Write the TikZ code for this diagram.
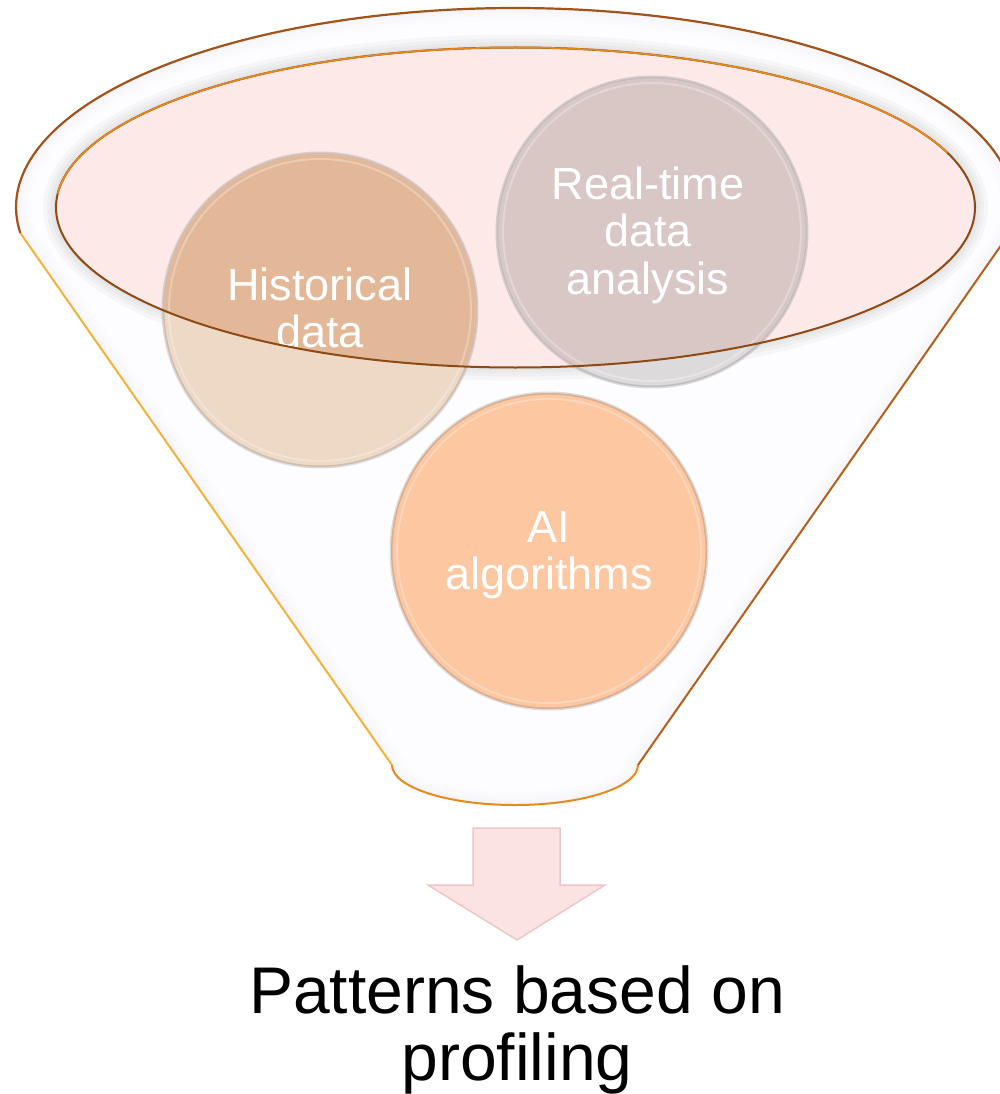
\documentclass[tikz,border=0pt]{standalone}
\usepackage{fontspec}
\setmainfont{Liberation Sans}

\definecolor{rimbrown}{HTML}{A0541A}
\definecolor{rimdark}{HTML}{8E4A14}
\definecolor{rimorange}{HTML}{E8891C}
\definecolor{rimgold}{HTML}{F2B33A}
\definecolor{rimright}{HTML}{B5601A}
\definecolor{mouthpink}{HTML}{FDE9E8}
\definecolor{glass}{HTML}{FDFCFE}
\definecolor{histlight}{HTML}{EED8C6}
\definecolor{histdark}{HTML}{E2B898}
\definecolor{rtlight}{HTML}{DDDADB}
\definecolor{rtdark}{HTML}{D8C7C5}
\definecolor{aifill}{HTML}{FCC7A1}
\definecolor{arrowpink}{HTML}{FCE3E3}
\definecolor{arrowedge}{HTML}{EFC6C6}

% outline of the funnel body: top rim arc, two sloping sides, rounded spout
\def\funnelpath{(20.3,233) -- (392,765)
  arc[start angle=180,end angle=0,x radius=123,y radius=40]
  -- (1009.7,233)
  arc[start angle=7.51,end angle=-187.51,x radius=499,y radius=199] -- cycle}
% opening of the funnel
\def\mouthpath{(515.5,207.5) ellipse [x radius=459.5,y radius=160]}

\tikzset{
  disc/.style={circle,inner sep=0pt,minimum size=#1,draw=black,draw opacity=0.13,line width=3pt},
  disclabel/.style={anchor=base,inner sep=0pt,text=white,
    font=\fontsize{45}{47}\selectfont},
  resultlabel/.style={anchor=base,inner sep=0pt,text=black,
    font=\fontsize{66}{66}\selectfont},
}

\begin{document}
\begin{tikzpicture}[x=1pt,y=-1pt]
\useasboundingbox (0,0) rectangle (999,1094);
\fill[white] (0,0) rectangle (999,1094);

% funnel body
\fill[glass] \funnelpath;
\begin{scope}
  \clip \funnelpath;
  % soft inner shading along the edges of the body
  \foreach \w in {26,18,10,4}
    \draw[line width=\w pt,color=black!45!blue!20,opacity=0.035] \funnelpath;
  % shadow cast around the opening
  \foreach \w in {26,18,11,5}
    \draw[line width=\w pt,color=black!50,opacity=0.05] \mouthpath;
\end{scope}

% opening
\fill[mouthpink] \mouthpath;

% circles: light body, darker where they sit inside the opening
\node[disc=314,fill=histlight] (hist) at (320,310) {};
\node[disc=310,fill=rtlight] (rt) at (652,232) {};
\node[disc=316,fill=aifill] (ai) at (549,551) {};
\begin{scope}
  \clip \mouthpath;
  \fill[histdark] (hist.center) circle (155.5);
  \fill[rtdark] (rt.center) circle (153.5);
\end{scope}
\foreach \c/\r in {hist/151,rt/149,ai/152}
  \draw[white,opacity=0.28,line width=2pt] (\c.center) circle (\r);

% circle labels
\node[disclabel] (histtext) at (320,300)
  {\begin{tabular}[t]{@{}c@{}}Historical\\data\end{tabular}};
\node[disclabel] (rttext) at (648,200)
  {\begin{tabular}[t]{@{}c@{}}Real-time\\data\\analysis\end{tabular}};
\node[disclabel] (aitext) at (549,542)
  {\begin{tabular}[t]{@{}c@{}}AI\\algorithms\end{tabular}};

% rim of the opening
\draw[rimdark,line width=2pt] \mouthpath;
\draw[rimorange,line width=1.6pt]
  (515.5,207.5) ++(-20:459.5 and 160)
  arc[start angle=-20,end angle=-175,x radius=459.5,y radius=160];

% outline of the body
\draw[rimgold,line width=2pt] (20.3,233) -- (392,765);
\draw[rimorange,line width=2pt] (392,765)
  arc[start angle=180,end angle=0,x radius=123,y radius=40];
\draw[rimright,line width=2pt] (638,765) -- (1009.7,233);
\draw[rimbrown,line width=2.2pt] (1009.7,233)
  arc[start angle=7.51,end angle=-187.51,x radius=499,y radius=199];

% block arrow below the spout
\fill[arrowpink,draw=arrowedge,line width=1.5pt,line join=miter]
  (473,828) -- (560,828) -- (560,885) -- (605,885) -- (517,940)
  -- (428,885) -- (473,885) -- cycle;

% result
\node[resultlabel] (result) at (517,1013)
  {\begin{tabular}[t]{@{}c@{}}Patterns based on\\profiling\end{tabular}};
\end{tikzpicture}
\end{document}
